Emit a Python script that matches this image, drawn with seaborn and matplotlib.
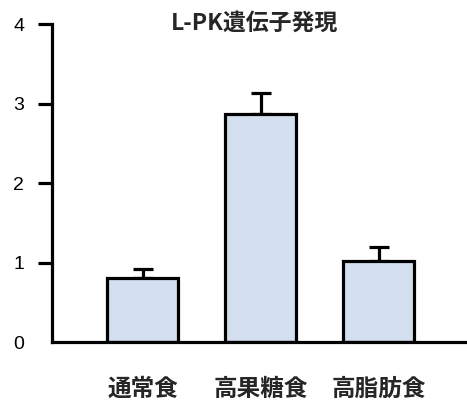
import matplotlib
matplotlib.use("Agg")
import matplotlib.pyplot as plt
import seaborn as sns
import pandas as pd

# L-PK gene expression by diet
diets = ["通常食", "高果糖食", "高脂肪食"]
expression = [0.805, 2.87, 1.02]
sem = [0.115, 0.26, 0.18]
y_ticks = [0, 1, 2, 3, 4]

sns.set_theme(style="white")
plt.rcParams["font.family"] = ["Liberation Sans", "Noto Sans CJK JP", "DejaVu Sans"]

df = pd.DataFrame({"diet": diets, "expr": expression})

fig = plt.figure(figsize=(4.67, 4.01), dpi=100)
ax = fig.add_axes([0.1113, 0.1471, 0.8887, 0.7930])

sns.barplot(data=df, x="diet", y="expr", color="#d3dfee", width=0.6,
            edgecolor="black", linewidth=2.3, saturation=1, ax=ax, zorder=2)

ax.errorbar(range(len(diets)), expression, yerr=[[0] * len(sem), sem],
            fmt="none", ecolor="black", elinewidth=2.3, capsize=7.5,
            capthick=2.3, zorder=1)

ax.set_xlim(-0.77, 2.75)
ax.set_ylim(0, 4)
ax.set_yticks(y_ticks)
ax.set_yticklabels([str(t) for t in y_ticks], fontsize=14)
ax.set_xlabel("")
ax.set_ylabel("")

for side in ("top", "right"):
    ax.spines[side].set_visible(False)
for side in ("left", "bottom"):
    ax.spines[side].set_linewidth(2.3)
    ax.spines[side].set_color("black")

ax.tick_params(axis="y", direction="out", length=10, width=2.3, pad=10,
               left=True, colors="black")
ax.yaxis.get_major_ticks()[0].tick1line.set_visible(False)
ax.tick_params(axis="x", length=0, pad=25)
for lab in ax.get_xticklabels():
    lab.set_fontfamily(["Noto Sans CJK JP", "DejaVu Sans"])
    lab.set_fontsize(17)
    lab.set_fontweight("bold")

fig.text(0.545, 0.943, "L-PK遺伝子発現", fontsize=16.5, fontweight="bold",
         family=["Noto Sans CJK JP", "DejaVu Sans"], ha="center", va="center")

fig.savefig("out.png", dpi=100)
